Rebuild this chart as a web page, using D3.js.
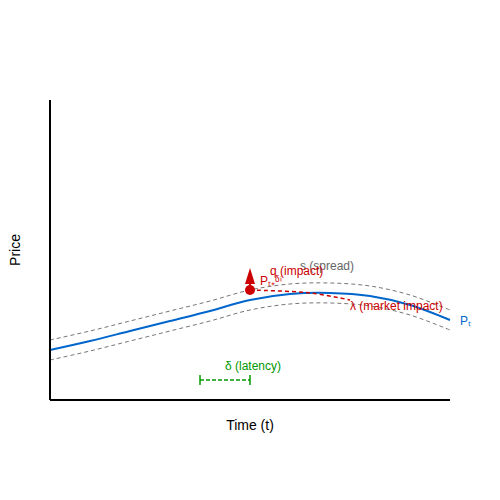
<!DOCTYPE html>
<html><head><meta charset="utf-8">
<script src="https://cdn.jsdelivr.net/npm/d3@7"></script>
<style>body{margin:0;background:#fff}text{font-family:"Liberation Sans",Arial,sans-serif}</style>
</head><body><svg width="500" height="500"></svg>
<script>
const timeVals = [0, 1, 2, 3, 4, 5, 6, 7, 8, 9, 10];
const priceVals = [2.5, 2.95, 3.45, 3.95, 4.45, 5.0, 5.3, 5.35, 5.2, 4.75, 4.0];
const spread = 0.5;
const impactPath = [[5, 5.5], [6.5, 5.35], [7.5, 5.0]];
const tradeTime = 5, tradePrice = 5.5;
const latency = [3.75, 5], latencyY = 1;

const svg = d3.select("svg");
const x = d3.scaleLinear().domain([0, 10]).range([50, 450]);
const y = d3.scaleLinear().domain([0, 15]).range([400, 100]);

const line = d3.line().x(d => x(d[0])).y(d => y(d[1])).curve(d3.curveCatmullRom);
const mid = timeVals.map((t, i) => [t, priceVals[i]]);

svg.append("path").attr("d", line(mid.map(d => [d[0], d[1] + spread])))
  .attr("fill", "none").attr("stroke", "#777").attr("stroke-width", 1).attr("stroke-dasharray", "4,3");
svg.append("path").attr("d", line(mid.map(d => [d[0], d[1] - spread])))
  .attr("fill", "none").attr("stroke", "#777").attr("stroke-width", 1).attr("stroke-dasharray", "4,3");
svg.append("path").attr("d", line(mid))
  .attr("fill", "none").attr("stroke", "#0066cc").attr("stroke-width", 2);
svg.append("path").attr("d", line(impactPath))
  .attr("fill", "none").attr("stroke", "#cc0000").attr("stroke-width", 1.5).attr("stroke-dasharray", "4,3");

// trade marker
svg.append("circle").attr("cx", x(tradeTime)).attr("cy", y(tradePrice)).attr("r", 5).attr("fill", "#cc0000");
svg.append("line").attr("x1", x(tradeTime)).attr("x2", x(tradeTime)).attr("y1", y(tradePrice)).attr("y2", y(tradePrice) - 12)
  .attr("stroke", "#cc0000").attr("stroke-width", 2);
svg.append("path").attr("d", `M${x(tradeTime) - 5},${y(tradePrice) - 6} L${x(tradeTime)},${y(tradePrice) - 22} L${x(tradeTime) + 5},${y(tradePrice) - 6}Z`)
  .attr("fill", "#cc0000");

// latency
svg.append("line").attr("x1", x(latency[0])).attr("x2", x(latency[1])).attr("y1", y(latencyY)).attr("y2", y(latencyY))
  .attr("stroke", "#009900").attr("stroke-width", 1.5).attr("stroke-dasharray", "4,2");
latency.forEach(t => svg.append("line").attr("x1", x(t)).attr("x2", x(t)).attr("y1", y(latencyY) - 5).attr("y2", y(latencyY) + 5)
  .attr("stroke", "#009900").attr("stroke-width", 1.5));

// axes
svg.append("line").attr("x1", 50).attr("x2", 50).attr("y1", 100).attr("y2", 400).attr("stroke", "#000").attr("stroke-width", 2);
svg.append("line").attr("x1", 50).attr("x2", 450).attr("y1", 400).attr("y2", 400).attr("stroke", "#000").attr("stroke-width", 2);

const lbl = (tx, ty, s, c, anchor) => svg.append("text").attr("x", tx).attr("y", ty).attr("fill", c)
  .attr("font-size", 12).attr("text-anchor", anchor || "start").text(s);
lbl(250, 430, "Time (t)", "#000", "middle").attr("font-size", 14);
svg.append("text").attr("transform", "translate(20,250) rotate(-90)").attr("text-anchor", "middle")
  .attr("font-size", 14).text("Price");
lbl(300, 270, "s (spread)", "#666");
lbl(270, 275, "q (impact)", "#cc0000");
lbl(260, 285, "P\u209c\u208a\u1D5F\u2071", "#cc0000");
lbl(350, 310, "\u03bb (market impact)", "#cc0000");
lbl(460, 325, "P\u209c", "#0066cc");
lbl(225, 370, "\u03b4 (latency)", "#009900");
</script></body></html>
